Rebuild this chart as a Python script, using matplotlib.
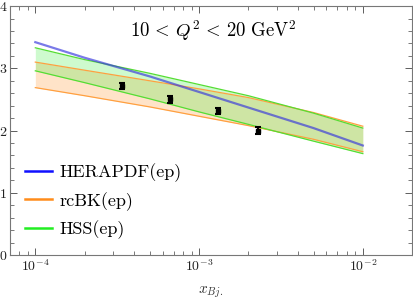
import numpy as np
import matplotlib
matplotlib.use("Agg")
import matplotlib.pyplot as plt
from matplotlib.ticker import LogLocator, MultipleLocator, NullFormatter

plt.rcParams["font.family"] = ["cmr10", "DejaVu Serif"]
plt.rcParams["mathtext.fontset"] = "cm"
plt.rcParams["axes.formatter.use_mathtext"] = True

# curve sample points (x_Bj.)
x_curve = [1e-4, 2e-4, 5e-4, 1e-3, 2e-3, 5e-3, 1e-2]

herapdf = [3.42, 3.17, 2.87, 2.62, 2.37, 2.04, 1.76]

rcbk_upper = [3.10, 2.97, 2.80, 2.67, 2.53, 2.29, 2.07]
rcbk_lower = [2.69, 2.56, 2.38, 2.23, 2.08, 1.86, 1.66]

hss_upper = [3.33, 3.14, 2.92, 2.74, 2.56, 2.28, 2.04]
hss_lower = [2.96, 2.77, 2.51, 2.30, 2.10, 1.83, 1.63]

# data points
x_data = [3.4e-4, 6.6e-4, 1.3e-3, 2.3e-3]
y_data = [2.71, 2.50, 2.31, 2.00]
y_err = [0.05, 0.05, 0.05, 0.05]

fig = plt.figure(figsize=(4.14, 3.04), dpi=100)
ax = fig.add_axes([0.024, 0.161, 0.971, 0.819])

ax.fill_between(x_curve, rcbk_lower, rcbk_upper, color="#ff8c1a", alpha=0.24, lw=0)
ax.plot(x_curve, rcbk_upper, color="#ffa040", lw=0.9)
ax.plot(x_curve, rcbk_lower, color="#ffa040", lw=0.9)

ax.fill_between(x_curve, hss_lower, hss_upper, color="#33ee33", alpha=0.24, lw=0)
ax.plot(x_curve, hss_upper, color="#55dd33", lw=0.9)
ax.plot(x_curve, hss_lower, color="#55dd33", lw=0.9)

ax.plot(x_curve, herapdf, color="#3333dd", lw=1.6, alpha=0.65)

ax.errorbar(x_data, y_data, yerr=y_err, fmt="s", color="black", ms=3,
            capsize=2.5, elinewidth=1.5, capthick=1.5)

# legend proxies
ax.plot([], [], color="#1010ff", lw=1.8, label="HERAPDF(ep)")
ax.plot([], [], color="#ff8c1a", lw=1.8, label="rcBK(ep)")
ax.plot([], [], color="#22ee22", lw=1.8, label="HSS(ep)")
handles, labels = ax.get_legend_handles_labels()
ax.legend(handles[-3:], labels[-3:], loc="lower left", bbox_to_anchor=(0.01, 0.02),
          frameon=False, fontsize=13, handlelength=1.5, handletextpad=0.4,
          labelspacing=0.55, borderaxespad=0.2)

ax.set_xscale("log")
ax.set_xlim(10 ** -4.155, 10 ** -1.70)
ax.set_ylim(0, 4)

ax.xaxis.set_major_locator(LogLocator(base=10, numticks=10))
ax.xaxis.set_minor_locator(LogLocator(base=10, subs=np.arange(2, 10), numticks=20))
ax.xaxis.set_minor_formatter(NullFormatter())
ax.yaxis.set_major_locator(MultipleLocator(1))
ax.yaxis.set_minor_locator(MultipleLocator(0.2))

ax.tick_params(which="both", direction="in", top=True, right=True,
               labelsize=10, colors="#444444", labelcolor="#222222", pad=2)
ax.tick_params(which="major", length=5, width=0.6)
ax.tick_params(which="minor", length=3, width=0.5)
for s in ax.spines.values():
    s.set_color("#777777")
    s.set_linewidth(0.8)

ax.set_xlabel(r"$x_{Bj.}$", fontsize=11, labelpad=8, color="#333333")
ax.text(0.507, 0.90, r"$10\,<\,Q^2\,<\,20\ \mathrm{GeV}^2$", transform=ax.transAxes,
        ha="center", va="center", fontsize=13.5)

fig.savefig("out.png", dpi=100)
